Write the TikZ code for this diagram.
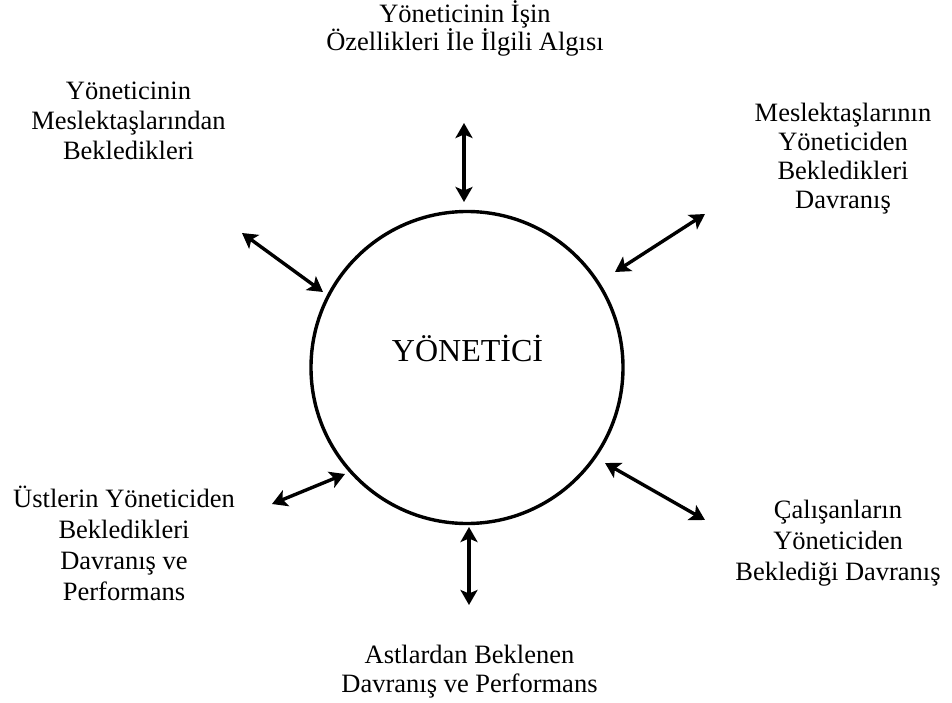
\documentclass[tikz,border=0pt]{standalone}
\usepackage{fontspec}
\setmainfont{Liberation Serif}
\usetikzlibrary{arrows.meta}

\begin{document}
\begin{tikzpicture}[x=1pt, y=-1pt,
  % multi-line labels are placed by the baseline of their last line
  label text/.style={align=center, anchor=base, inner sep=0pt,
    font=\fontsize{26.5}{#1}\selectfont},
  label text/.default=30,
  biarrow/.style={line width=3.4pt, {Stealth[length=15pt,width=17pt,inset=3.5pt]}-{Stealth[length=15pt,width=17pt,inset=3.5pt]}},
  ring/.style={circle, draw, line width=3.4pt, minimum size=312pt, inner sep=0pt}
]
  \useasboundingbox (0,0) rectangle (952,703);

  % central role
  \node[ring] (core) at (467,367.5) {};
  \node[anchor=base, inner sep=0pt, font=\fontsize{32}{36}\selectfont] (coretext) at (467.5,361.7) {YÖNETİCİ};

  % surrounding expectations
  \node[label text=28] (top) at (465,50.5) {Yöneticinin İşin\\Özellikleri İle İlgili Algısı};
  \node[label text=30] (tl) at (128.5,160) {Yöneticinin\\Meslektaşlarından\\Bekledikleri};
  \node[label text=29] (tr) at (843,209) {Meslektaşlarının\\Yöneticiden\\Bekledikleri\\Davranış};
  \node[label text=30.7] (bl) at (124,600) {Üstlerin Yöneticiden\\Bekledikleri\\Davranış ve\\Performans};
  \node[label text=31] (br) at (838,580) {Çalışanların\\Yöneticiden\\Bekledi\u{g}i Davranış};
  \node[label text=29] (bot) at (469.5,692) {Astlardan Beklenen\\Davranış ve Performans};

  % arrow ends
  \coordinate (a1) at (464,123);  \coordinate (a2) at (464,202);
  \coordinate (b1) at (242,233);  \coordinate (b2) at (323,292);
  \coordinate (c1) at (705,214);  \coordinate (c2) at (615,272);
  \coordinate (d1) at (272,504);  \coordinate (d2) at (345,474);
  \coordinate (e1) at (469,527);  \coordinate (e2) at (469,605);
  \coordinate (f1) at (605,463);  \coordinate (f2) at (705,520);

  \draw[biarrow] (a1) -- (a2);
  \draw[biarrow] (b1) -- (b2);
  \draw[biarrow] (c1) -- (c2);
  \draw[biarrow] (d1) -- (d2);
  \draw[biarrow] (e1) -- (e2);
  \draw[biarrow] (f1) -- (f2);
\end{tikzpicture}
\end{document}
